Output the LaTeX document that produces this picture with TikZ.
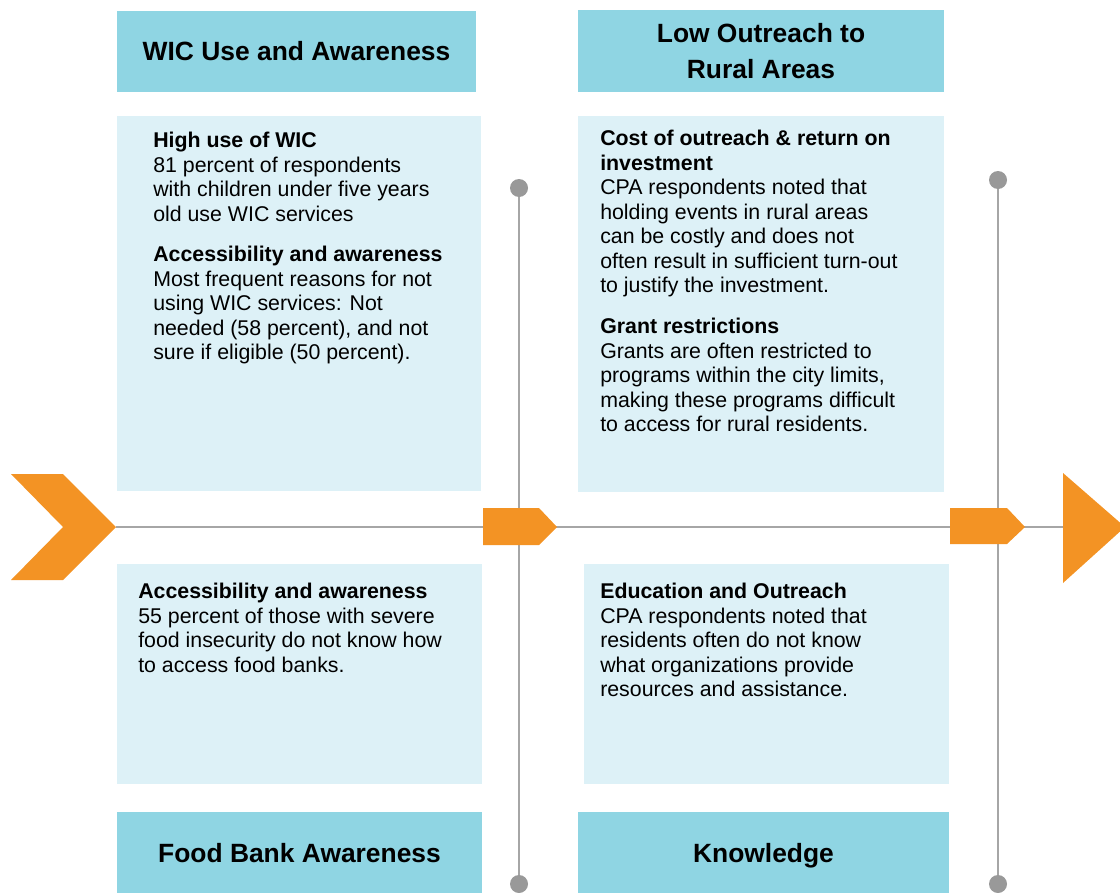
\documentclass[tikz,border=0pt]{standalone}
\usepackage{fontspec}
\setmainfont{Liberation Sans}
\usepackage{tikz}
\usetikzlibrary{positioning}

\definecolor{headblue}{HTML}{8FD5E3}
\definecolor{paleblue}{HTML}{DDF1F7}
\definecolor{fishorange}{HTML}{F39324}
\definecolor{spinegrey}{HTML}{A6A6A6}
\definecolor{dotgrey}{HTML}{999999}

\begin{document}
\begin{tikzpicture}[x=0.75pt,y=-0.75pt,
    header/.style={fill=headblue,draw=none,inner sep=0pt,align=center,
        font=\fontsize{19.8}{27}\selectfont\bfseries},
    panel/.style={fill=paleblue,draw=none},
    body/.style={anchor=north west,inner sep=0pt,align=left,
        font=\fontsize{16}{18.4}\selectfont},
    spine/.style={draw=spinegrey,line width=1.5pt},
    dot/.style={circle,fill=dotgrey,inner sep=0pt,minimum size=13.5pt},
    marker/.style={fill=fishorange,draw=none}]
            \useasboundingbox (0,0) rectangle (1120,892);

            % light panels
            \fill [panel](117,116) rectangle (481,491);
            \fill [panel](578,116) rectangle (944,492);
            \fill [panel](117,564) rectangle (482,784);
            \fill [panel](584,564) rectangle (949,784);

            % main spine
            \coordinate (tail) at (116,527);
            \coordinate (head) at (1063,527);
            \draw [spine](tail)--(head);

            % ribs
            \node [dot] (topA) at (519,188) {};
            \node [dot] (botA) at (519,884) {};
            \node [dot] (topB) at (998,180) {};
            \node [dot] (botB) at (998,884) {};
            \draw [spine](topA)--(botA);
            \draw [spine](topB)--(botB);

            % orange markers
            \fill [marker](11,474)--(63,474)--(116,527)--(63,580)--(11,580)--(63,527)--cycle;
            \fill [marker](483,508)--(539,508)--(557,527)--(539,545)--(483,545)--cycle;
            \fill [marker](950,508)--(1007,508)--(1025,527)--(1007,544)--(950,544)--cycle;
            \fill [marker](head)++(0,-54)--++(0,110)--(1125,527)--cycle;

            % headers
            \node [header,minimum width=359*0.75pt,minimum height=81*0.75pt] (wic) at (296.5,51.5) {WIC Use and Awareness};
            \node [header,minimum width=366*0.75pt,minimum height=81*0.75pt] (rural) at (761,51) {Low Outreach to\\Rural Areas};
            \node [header,minimum width=365*0.75pt,minimum height=82*0.75pt] (food) at (299.5,853) {Food Bank Awareness};
            \node [header,minimum width=371*0.75pt,minimum height=82*0.75pt,text depth=0pt] (know) at (763.5,853) {Knowledge};

            % panel texts
            \node [body] (wicA) at (153,132) {\textbf{High use of WIC}\\81 percent of respondents\\with children under five years\\old use WIC services};
            \node [body] (wicB) at (153,246) {\textbf{Accessibility and awareness}\\Most frequent reasons for not\\using WIC services: Not\\needed (58 percent), and not\\sure if eligible (50 percent).};
            \node [body] (ruralA) at (600,130) {\textbf{Cost of outreach \& return on}\\\textbf{investment}\\CPA respondents noted that\\holding events in rural areas\\can be costly and does not\\often result in sufficient turn-out\\to justify the investment.};
            \node [body] (ruralB) at (600,318) {\textbf{Grant restrictions}\\Grants are often restricted to\\programs within the city limits,\\making these programs difficult\\to access for rural residents.};
            \node [body] (foodA) at (138,583) {\textbf{Accessibility and awareness}\\55 percent of those with severe\\food insecurity do not know how\\to access food banks.};
            \node [body] (knowA) at (600,583) {\textbf{Education and Outreach}\\CPA respondents noted that\\residents often do not know\\what organizations provide\\resources and assistance.};
            \end{tikzpicture}
\end{document}
